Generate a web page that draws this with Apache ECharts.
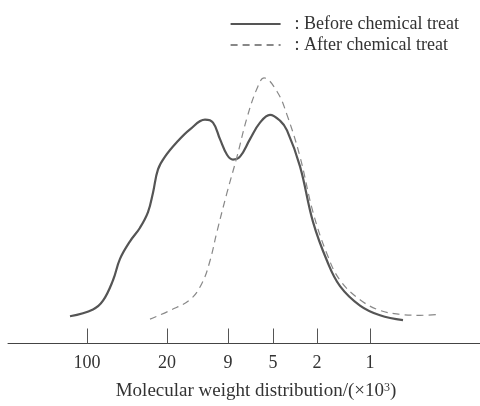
<!DOCTYPE html>
<html>
<head>
<meta charset="utf-8">
<script src="https://cdn.jsdelivr.net/npm/echarts@6/dist/echarts.min.js"></script>
<style>
  html, body { margin: 0; padding: 0; background: #fff; }
  #chart { width: 480px; height: 406px; }
</style>
</head>
<body>
<div id="chart"></div>
<script>
// axis position of each molecular weight mark (x10^3)
var tickPos = [87, 167, 228, 273, 317, 370]
var tickLabels = ['100', '20', '9', '5', '2', '1']

// [axis position, detector response]
var beforeTreat = [
  [70, 28], [93, 35], [103, 44], [113, 65], [120, 87], [130, 105], [140, 119],
  [148, 135], [153, 155], [158, 179], [165, 192], [177, 207], [190, 220],
  [205, 230], [213, 227], [220, 210], [227, 194], [233, 189], [240, 192],
  [250, 210], [260, 227], [270, 235], [280, 229], [287, 219], [300, 182],
  [313, 125], [327, 85], [340, 59], [360, 39], [380, 29], [403, 24]
]
var afterTreat = [
  [150, 25], [170, 34], [190, 45], [202, 62], [210, 85], [217, 115], [227, 155],
  [237, 192], [247, 232], [257, 262], [264, 273], [277, 259], [287, 235],
  [300, 192], [313, 135], [327, 92], [340, 65], [360, 45], [380, 34],
  [400, 30], [420, 29], [440, 30]
]

var serif = '"Liberation Serif", "DejaVu Serif", serif'
var chart = echarts.init(document.getElementById('chart'))
var option = {
  animation: false,
  backgroundColor: '#fff',
  grid: { left: 8, right: 0, top: 0, bottom: 53 },
  legend: {
    orient: 'vertical',
    right: 16,
    top: 10,
    itemWidth: 50,
    itemHeight: 10,
    itemGap: 3,
    data: ['Before chemical treat', 'After chemical treat'],
    itemStyle: { opacity: 0 },
    formatter: function (name) {
      return ': ' + name
    },
    textStyle: { fontFamily: serif, fontSize: 18, color: '#333', padding: [0, 0, 0, 9] }
  },
  xAxis: {
    type: 'value',
    min: 8,
    max: 480,
    splitLine: { show: false },
    axisLine: { lineStyle: { color: '#444', width: 1 } },
    axisTick: {
      customValues: tickPos,
      inside: true,
      length: 15,
      lineStyle: { color: '#555' }
    },
    axisLabel: {
      customValues: tickPos,
      margin: 11,
      fontFamily: serif,
      fontSize: 18,
      color: '#333',
      formatter: function (v) {
        return tickLabels[tickPos.indexOf(v)]
      }
    },
    name: '{a|Molecular weight distribution/(×10}{s|3}{a|)}',
    nameLocation: 'middle',
    nameGap: 38,
    nameTextStyle: {
      padding: [0, 0, 0, 24],
      rich: {
        a: { fontFamily: serif, fontSize: 19, color: '#333' },
        s: { fontFamily: serif, fontSize: 12, color: '#333', verticalAlign: 'top', padding: [0, 0, 8, 0] }
      }
    }
  },
  yAxis: {
    type: 'value',
    min: 0,
    max: 353,
    show: false
  },
  series: [
    {
      name: 'Before chemical treat',
      type: 'line',
      smooth: 0.4,
      symbol: 'none',
      data: beforeTreat,
      lineStyle: { color: '#555', width: 2.2 },
      itemStyle: { color: '#555' }
    },
    {
      name: 'After chemical treat',
      type: 'line',
      smooth: 0.4,
      symbol: 'none',
      data: afterTreat,
      lineStyle: { color: '#888', width: 1.2, type: [7, 5] },
      itemStyle: { color: '#888' }
    }
  ]
}
chart.setOption(option)
</script>
</body>
</html>
